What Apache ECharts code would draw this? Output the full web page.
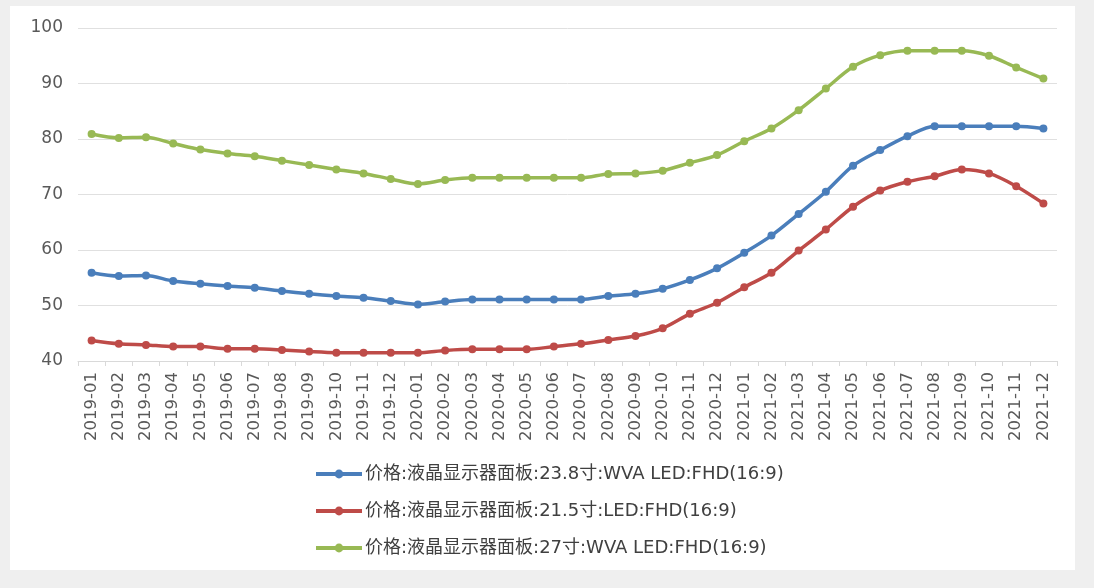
<!DOCTYPE html>
<html>
<head>
<meta charset="utf-8">
<script src="https://cdn.jsdelivr.net/npm/echarts@6/dist/echarts.min.js"></script>
<style>
html,body{margin:0;padding:0;background:#efefef;}
#panel{position:absolute;left:10px;top:6px;width:1065px;height:564px;background:#fff;}
#chart{position:absolute;left:0;top:0;width:1094px;height:588px;}
</style>
</head>
<body>
<div id="panel"></div>
<div id="chart"></div>
<script>
const categories = ['2019-01','2019-02','2019-03','2019-04','2019-05','2019-06','2019-07','2019-08','2019-09','2019-10','2019-11','2019-12',
'2020-01','2020-02','2020-03','2020-04','2020-05','2020-06','2020-07','2020-08','2020-09','2020-10','2020-11','2020-12',
'2021-01','2021-02','2021-03','2021-04','2021-05','2021-06','2021-07','2021-08','2021-09','2021-10','2021-11','2021-12'];
const name238 = '价格:液晶显示器面板:23.8寸:WVA LED:FHD(16:9)';
const name215 = '价格:液晶显示器面板:21.5寸:LED:FHD(16:9)';
const name27 = '价格:液晶显示器面板:27寸:WVA LED:FHD(16:9)';
const values238 = [55.9,55.3,55.4,54.4,53.9,53.5,53.2,52.6,52.1,51.7,51.4,50.8,
50.2,50.7,51.1,51.1,51.1,51.1,51.1,51.7,52.1,53.0,54.6,56.7,
59.5,62.6,66.5,70.5,75.2,78.0,80.5,82.3,82.3,82.3,82.3,81.9];
const values215 = [43.7,43.1,42.9,42.6,42.6,42.2,42.2,42.0,41.7,41.5,41.5,41.5,
41.5,41.9,42.1,42.1,42.1,42.6,43.1,43.8,44.5,45.9,48.5,50.5,
53.3,55.9,59.9,63.7,67.8,70.7,72.3,73.3,74.5,73.8,71.5,68.4];
const values27 = [80.9,80.2,80.3,79.2,78.1,77.4,76.9,76.1,75.3,74.5,73.8,72.8,
71.9,72.6,73.0,73.0,73.0,73.0,73.0,73.7,73.8,74.3,75.7,77.1,
79.6,81.9,85.2,89.1,93.0,95.1,95.9,95.9,95.9,95.0,92.9,90.9];
const yTicks = {min:40, max:100, interval:10};

const chart = echarts.init(document.getElementById('chart'), null, {renderer:'canvas'});
function ser(name, data, color){
  return {name, type:'line', data, smooth:0.3, symbol:'circle', symbolSize:8,
    lineStyle:{width:3.5, color}, itemStyle:{color}, emphasis:{disabled:true}};
}
chart.setOption({
  backgroundColor:'transparent',
  animation:false,
  grid:{left:78, right:37, top:28, bottom:227, containLabel:false},
  xAxis:{type:'category', data:categories, boundaryGap:true,
    axisLine:{lineStyle:{color:'#d9d9d9'}},
    axisTick:{show:true, lineStyle:{color:'#d9d9d9'}, length:5},
    axisLabel:{interval:0, rotate:90, color:'#595959', fontSize:16.5, fontFamily:'DejaVu Sans', margin:11}},
  yAxis:{type:'value', min:yTicks.min, max:yTicks.max, interval:yTicks.interval,
    axisLine:{show:false}, axisTick:{show:false},
    splitLine:{lineStyle:{color:'#e0e0e0'}},
    axisLabel:{color:'#595959', fontSize:17, fontFamily:'DejaVu Sans', margin:15}},
  legend:{orient:'vertical', left:309, top:460, itemGap:19, itemWidth:46, itemHeight:11,
    lineStyle:{width:4},
    textStyle:{color:'#404040', fontSize:18, fontFamily:"'DejaVu Sans','Noto Sans CJK SC'", padding:[0,0,0,-2]},
    data:[name238, name215, name27]},
  series:[ser(name238, values238, '#4a7ebb'), ser(name215, values215, '#be4b48'), ser(name27, values27, '#98b954')]
});
</script>
</body>
</html>
